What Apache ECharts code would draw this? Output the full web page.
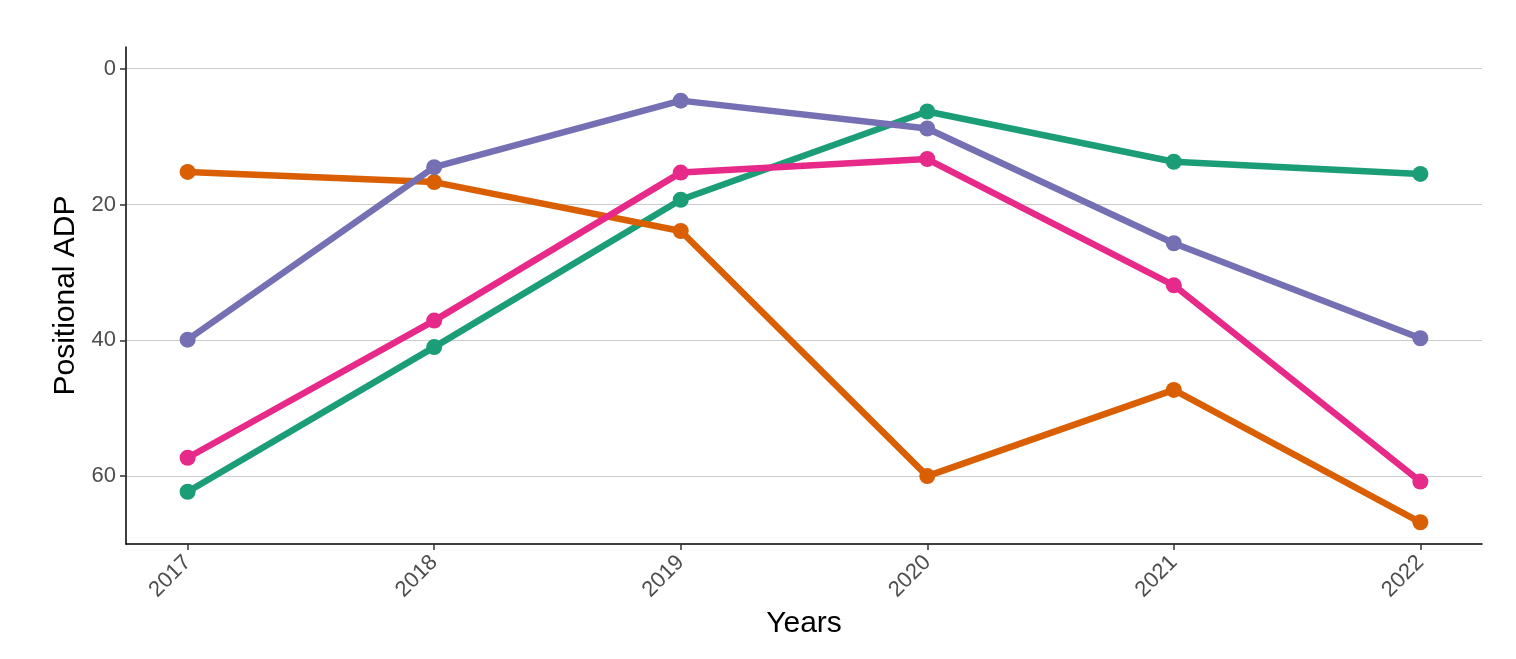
<!DOCTYPE html>
<html>
<head>
<meta charset="utf-8">
<title>Positional ADP by year</title>
<script src="https://cdn.jsdelivr.net/npm/echarts@6/dist/echarts.min.js"></script>
<style>
  html, body { margin: 0; padding: 0; background: #fff; }
  #main { width: 1516px; height: 659px; }
</style>
</head>
<body>
<div id="main"></div>
<script>
// years on the x axis
var years = [2017, 2018, 2019, 2020, 2021, 2022];

// positional ADP per player line (Dark2 order)
var greenAdp = [62.3, 41.0, 19.3, 6.3, 13.7, 15.5];
var orangeAdp = [15.2, 16.7, 23.9, 60.0, 47.3, 66.8];
var purpleAdp = [39.9, 14.5, 4.7, 8.8, 25.7, 39.7];
var pinkAdp = [57.3, 37.1, 15.3, 13.3, 31.9, 60.8];

var yTicks = [0, 20, 40, 60];

var chartDom = document.getElementById('main');
var myChart = echarts.init(chartDom);
var option;

function pairs(vals) {
  return years.map(function (y, i) { return [y, vals[i]]; });
}

function line(name, color, vals) {
  return {
    name: name,
    type: 'line',
    data: pairs(vals),
    symbol: 'circle',
    symbolSize: 16,
    lineStyle: { color: color, width: 6.5 },
    itemStyle: { color: color },
    silent: true,
    animation: false
  };
}

option = {
  backgroundColor: '#fff',
  textStyle: { fontFamily: 'Liberation Sans' },
  grid: { left: 126, right: 34, top: 47, bottom: 115 },
  xAxis: {
    type: 'value',
    min: 2016.75,
    max: 2022.25,
    name: 'Years',
    nameLocation: 'middle',
    nameGap: 64,
    nameTextStyle: { color: '#000', fontSize: 30 },
    axisLine: { show: true, onZero: false, lineStyle: { color: '#000', width: 1.5 } },
    axisTick: { show: true, customValues: years, length: 6, lineStyle: { color: '#333', width: 1.5 } },
    axisLabel: {
      customValues: years,
      rotate: 45,
      color: '#4d4d4d',
      fontSize: 22,
      margin: 15,
      formatter: function (v) { return String(v); }
    },
    splitLine: { show: false }
  },
  yAxis: {
    type: 'value',
    inverse: true,
    min: -3.2,
    max: 70,
    name: 'Positional ADP',
    nameLocation: 'middle',
    nameGap: 44,
    nameTextStyle: { color: '#000', fontSize: 30 },
    axisLine: { show: true, onZero: false, lineStyle: { color: '#000', width: 1.5 } },
    axisTick: { show: true, customValues: yTicks, length: 6, lineStyle: { color: '#333', width: 1.5 } },
    axisLabel: { customValues: yTicks, color: '#4d4d4d', fontSize: 22, margin: 10 },
    splitLine: { show: true, showMinLine: true, showMaxLine: true, lineStyle: { color: '#cccccc', width: 1 } }
  },
  series: [
    line('green', '#1b9e77', greenAdp),
    line('orange', '#d95f02', orangeAdp),
    line('purple', '#7570b3', purpleAdp),
    line('pink', '#e7298a', pinkAdp)
  ]
};

option && myChart.setOption(option);

window.addEventListener('resize', myChart.resize);
</script>
</body>
</html>
